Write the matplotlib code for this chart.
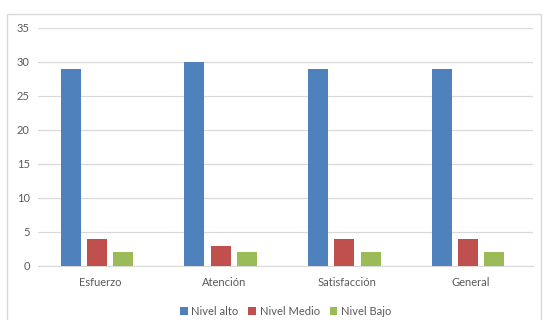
import numpy as np
import matplotlib
matplotlib.use("Agg")
import matplotlib.pyplot as plt
from matplotlib.patches import Rectangle

categorias = ["Esfuerzo", "Atención", "Satisfacción", "General"]
nivel_alto = [29, 30, 29, 29]
nivel_medio = [4, 3, 4, 4]
nivel_bajo = [2, 2, 2, 2]
series = ["Nivel alto", "Nivel Medio", "Nivel Bajo"]
colores = ["#4F81BD", "#C0504D", "#9BBB59"]

plt.rcParams["font.family"] = ["Lato", "DejaVu Sans"]

fig = plt.figure(figsize=(5.44, 3.2), dpi=100)
ax = fig.add_axes([0.070, 0.169, 0.910, 0.744])

# borde del area del grafico
fig.patches.append(Rectangle((7 / 544, -0.05), 0.995 - 7 / 544, 1.05 - 14 / 320,
                             transform=fig.transFigure, fill=False,
                             edgecolor="#D9D9D9", linewidth=1.0))

x = np.arange(len(categorias))
ancho = 0.162
paso = 0.212
for i, (nombre, valores, color) in enumerate(zip(series, [nivel_alto, nivel_medio, nivel_bajo], colores)):
    ax.bar(x + (i - 1) * paso - 0.025, valores, width=ancho, color=color, label=nombre, zorder=3)

ax.set_xlim(-0.5, len(categorias) - 0.5)
ax.set_ylim(0, 35)
ax.set_yticks(range(0, 36, 5))
ax.set_xticks(x)
ax.set_xticklabels(categorias)
ax.grid(axis="y", color="#D9D9D9", linewidth=0.9, zorder=0)
for s in ["top", "right", "left"]:
    ax.spines[s].set_visible(False)
ax.spines["bottom"].set_color("#D9D9D9")
ax.tick_params(axis="both", length=0, labelsize=8, colors="#595959")
ax.tick_params(axis="x", pad=8)
ax.tick_params(axis="y", pad=6)

ax.legend(loc="center", bbox_to_anchor=(0.5, -0.19), ncol=3, frameon=False,
          fontsize=8, handlelength=0.7, handleheight=0.7, handletextpad=0.3,
          columnspacing=0.9, labelcolor="#595959")

fig.savefig("out.png", dpi=100)
